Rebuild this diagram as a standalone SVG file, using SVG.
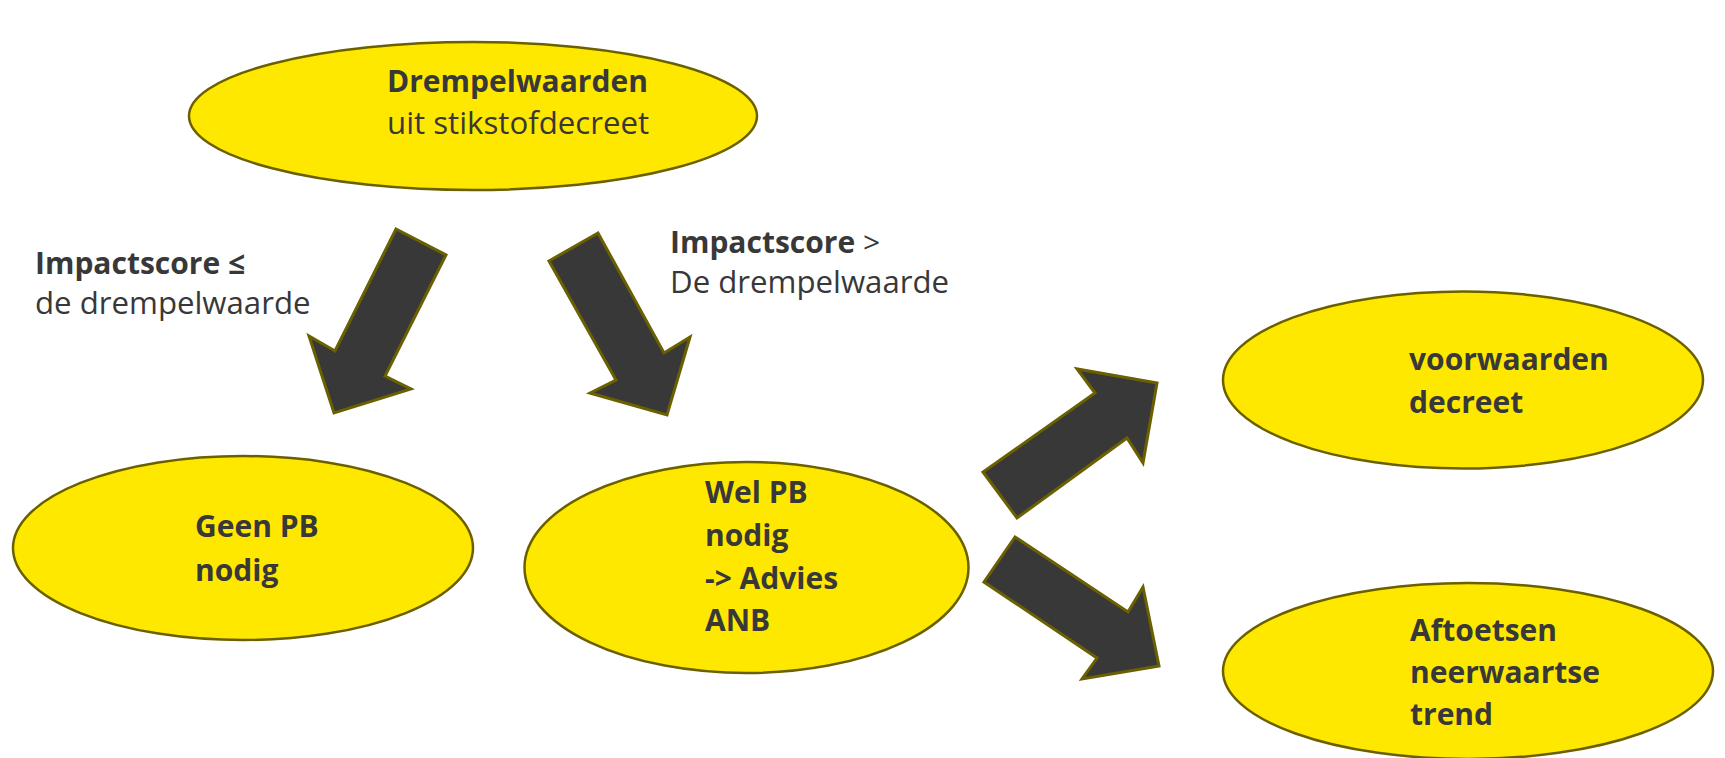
<svg xmlns="http://www.w3.org/2000/svg" width="1725" height="758" viewBox="0 0 1725 758">
<style>
.node ellipse{fill:#FFE800;stroke:#6B6000;stroke-width:2.5}
.arrow{fill:#383838;stroke:#6B6000;stroke-width:3;stroke-linejoin:miter}
text{font-family:"Open Sans","DejaVu Sans",sans-serif;font-size:30px;fill:#383838}
.b{font-weight:bold}
.r{font-size:31.2px}
</style>
<rect width="1725" height="758" fill="#FFFFFF"/>
<g id="connectors">
<polygon class="arrow" points="396,229 446,255 385,376 411,389 334,413 309,336 335,351"/>
<polygon class="arrow" points="549,261 598,233 664,353 690,337 667,415 590,393 616,380"/>
<polygon class="arrow" points="983,472 1017,518 1127,438 1143,463 1157,383 1077,369 1095,393"/>
<polygon class="arrow" points="1015,537 984,582 1097,658 1082,679 1159,666 1143,587 1128,612"/>
</g>
<g id="node-drempelwaarden" class="node">
<ellipse cx="473" cy="116" rx="284" ry="74"/>
<text x="387" y="92" class="b">Drempelwaarden</text>
<text x="387" y="134" class="r">uit stikstofdecreet</text>
</g>
<g id="node-geen-pb" class="node">
<ellipse cx="243" cy="548" rx="230" ry="92"/>
<text x="195" y="537" class="b">Geen PB</text>
<text x="195" y="581" class="b">nodig</text>
</g>
<g id="node-wel-pb" class="node">
<ellipse cx="746.5" cy="567.5" rx="222" ry="105.5"/>
<text x="705" y="503" class="b">Wel PB</text>
<text x="705" y="546" class="b">nodig</text>
<text x="705" y="589" class="b">-&gt; Advies</text>
<text x="705" y="631" class="b">ANB</text>
</g>
<g id="node-voorwaarden" class="node">
<ellipse cx="1463" cy="380" rx="240" ry="88.5"/>
<text x="1409" y="370" class="b">voorwaarden</text>
<text x="1409" y="413" class="b">decreet</text>
</g>
<g id="node-aftoetsen" class="node">
<ellipse cx="1468" cy="671" rx="245" ry="88"/>
<text x="1410" y="641" class="b">Aftoetsen</text>
<text x="1410" y="683" class="b">neerwaartse</text>
<text x="1410" y="725" class="b">trend</text>
</g>
<g id="label-le">
<text x="35" y="274" class="b">Impactscore ≤</text>
<text x="35" y="314" class="r">de drempelwaarde</text>
</g>
<g id="label-gt">
<text x="670" y="253"><tspan class="b">Impactscore</tspan> &gt;</text>
<text x="670" y="293" class="r">De drempelwaarde</text>
</g>
</svg>
